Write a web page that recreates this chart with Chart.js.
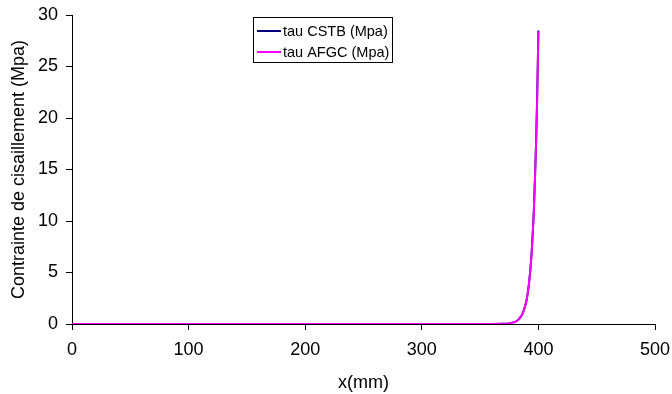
<!DOCTYPE html>
<html>
<head>
<meta charset="utf-8">
<script src="https://cdn.jsdelivr.net/npm/chart.js@4/dist/chart.umd.min.js"></script>
<style>
  html, body { margin: 0; padding: 0; background: #fff; }
  #wrap { width: 672px; height: 394px; }
</style>
</head>
<body>
<div id="wrap"><canvas id="chart" width="672" height="394"></canvas></div>
<script>
// x positions (mm)
const xPos = [0, 50, 100, 150, 200, 250, 300, 350, 370, 375, 380, 383, 386, 388, 390, 392, 394, 396, 398, 399, 400];
// shear stress (MPa)
const tauCSTB = [0, 0, 0, 0, 0, 0, 0, 0, 0.02, 0.05, 0.2, 0.45, 0.9, 1.5, 2.4, 4.0, 6.6, 10.8, 17.6, 22.4, 28.5];
const tauAFGC = [0, 0, 0, 0, 0, 0, 0, 0, 0.02, 0.05, 0.2, 0.45, 0.9, 1.5, 2.4, 4.0, 6.5, 10.6, 17.4, 22.2, 28.4];
const xTicks = [0, 100, 200, 300, 400, 500];
const yTicks = [0, 5, 10, 15, 20, 25, 30];

const FONT = "'Liberation Sans', Arial, sans-serif";
const toPts = (ys) => xPos.map((x, i) => ({ x: x, y: ys[i] }));

// boxed legend like the original
const boxLegend = {
  id: 'boxLegend',
  afterDraw(chart) {
    const ctx = chart.ctx;
    const x0 = 253, y0 = 17, w = 139, h = 45;
    ctx.save();
    ctx.fillStyle = '#fff';
    ctx.fillRect(x0, y0, w, h);
    ctx.strokeStyle = '#000';
    ctx.lineWidth = 1;
    ctx.strokeRect(x0 + 0.5, y0 + 0.5, w, h);
    ctx.font = '14.5px ' + FONT;
    ctx.textBaseline = 'middle';
    chart.data.datasets.forEach((ds, i) => {
      const cy = y0 + 14 + i * 21;
      ctx.strokeStyle = ds.borderColor;
      ctx.lineWidth = 2;
      ctx.beginPath();
      ctx.moveTo(x0 + 4, cy);
      ctx.lineTo(x0 + 28, cy);
      ctx.stroke();
      ctx.fillStyle = '#000';
      ctx.fillText(ds.label, x0 + 30, cy + 1);
    });
    ctx.restore();
  }
};

new Chart(document.getElementById('chart').getContext('2d'), {
  type: 'line',
  data: {
    datasets: [
      {
        label: 'tau CSTB (Mpa)',
        data: toPts(tauCSTB),
        borderColor: '#000080',
        borderWidth: 2,
        pointRadius: 0,
        tension: 0.2,
        order: 1
      },
      {
        label: 'tau AFGC (Mpa)',
        data: toPts(tauAFGC),
        borderColor: '#FF00FF',
        borderWidth: 2,
        pointRadius: 0,
        tension: 0.2,
        order: 0
      }
    ]
  },
  options: {
    responsive: false,
    animation: false,
    layout: { padding: { top: 15, right: 17, left: 0, bottom: 0 } },
    plugins: {
      legend: { display: false },
      tooltip: { enabled: false }
    },
    scales: {
      x: {
        type: 'linear',
        min: 0,
        max: 500,
        afterBuildTicks: (s) => { s.ticks = xTicks.map(v => ({ value: v })); },
        afterFit: (s) => { s.height = 70; s.paddingLeft = 0; s.paddingRight = 0; },
        border: { color: '#000', width: 1 },
        grid: { display: true, drawOnChartArea: false, drawTicks: true, tickLength: 6, color: '#000' },
        ticks: { color: '#000', font: { family: FONT, size: 18 }, padding: 9, maxRotation: 0 },
        title: { display: true, text: 'x(mm)', color: '#000', font: { family: FONT, size: 18 }, padding: { top: 9, bottom: 0 } }
      },
      y: {
        min: 0,
        max: 30,
        afterBuildTicks: (s) => { s.ticks = yTicks.map(v => ({ value: v })); },
        afterFit: (s) => { s.width = 72; s.paddingTop = 0; s.paddingBottom = 0; },
        border: { color: '#000', width: 1 },
        grid: { display: true, drawOnChartArea: false, drawTicks: true, tickLength: 6, color: '#000' },
        ticks: { color: '#000', font: { family: FONT, size: 18 }, padding: 8 },
        title: { display: true, text: 'Contrainte de cisaillement (Mpa)', color: '#000', font: { family: FONT, size: 18 }, padding: { top: 8, bottom: 4 } }
      }
    }
  },
  plugins: [boxLegend]
});
</script>
</body>
</html>
